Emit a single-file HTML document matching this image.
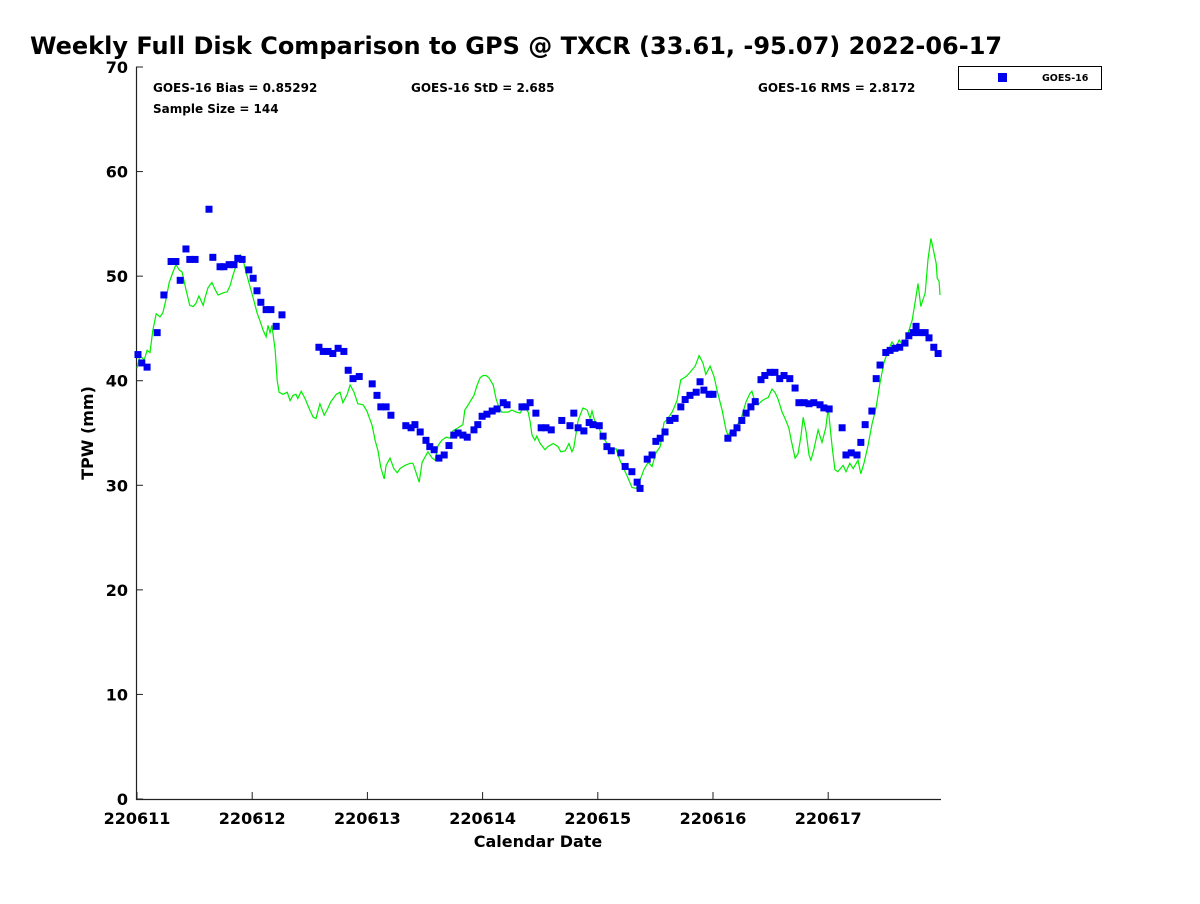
<!DOCTYPE html>
<html><head><meta charset="utf-8"><style>
body{margin:0;background:#fff;font-family:"DejaVu Sans",sans-serif}
svg text{font-family:"DejaVu Sans",sans-serif;font-weight:bold}
</style></head><body>
<svg id="chart" width="1200" height="900" xmlns="http://www.w3.org/2000/svg">
<rect width="1200" height="900" fill="#fff"/>
<text x="30" y="54" font-size="24">Weekly Full Disk Comparison to GPS @ TXCR (33.61, -95.07) 2022-06-17</text>
<text x="153" y="92" font-size="12">GOES-16 Bias = 0.85292</text>
<text x="411" y="92" font-size="12">GOES-16 StD = 2.685</text>
<text x="758" y="92" font-size="12">GOES-16 RMS = 2.8172</text>
<text x="153" y="113" font-size="12">Sample Size = 144</text>
<g>
<rect x="958.5" y="66.5" width="143" height="23" fill="#fff" stroke="#000" stroke-width="1"/>
<rect x="998" y="73" width="9" height="9" fill="#0000ee"/>
<text x="1042" y="81" font-size="9.5">GOES-16</text>
</g>
<text transform="translate(93,433) rotate(-90)" text-anchor="middle" font-size="16">TPW (mm)</text>
<text x="538" y="847" text-anchor="middle" font-size="16">Calendar Date</text>
<g id="axes"></g>
<g id="marks"></g>
</svg>
<script>
const yTicks=[0,10,20,30,40,50,60,70];
const xTickHours=[0,24,48,72,96,120,144];
const xTickLabels=["220611","220612","220613","220614","220615","220616","220617"];
const gpsHours=[0,0.6,1.5,2.1,2.7,3.3,4.0,4.8,5.4,6.0,6.7,7.5,8.1,8.8,9.4,10.2,11.0,11.7,12.3,12.9,13.8,14.2,14.8,15.6,16.3,16.9,17.9,18.8,19.4,20.0,20.8,21.5,22.1,22.5,23.3,24.2,25.0,25.8,26.3,26.9,27.3,27.7,28.1,28.8,29.2,29.6,30.4,31.3,31.9,32.5,33.1,33.5,34.2,35.0,36.0,36.7,37.3,38.1,39.0,39.6,40.4,41.5,42.3,42.9,43.8,44.4,45.2,46.0,47.1,47.9,49.0,49.6,50.2,50.8,51.5,51.9,52.7,53.5,54.2,54.8,55.8,56.9,57.5,58.8,59.4,60.6,61.5,62.1,62.7,63.5,64.4,65.2,65.8,66.9,67.9,68.3,69.0,69.8,70.2,70.8,71.5,72.1,72.7,73.3,74.2,74.8,75.2,76.0,77.3,78.1,79.0,79.8,80.6,81.5,81.9,82.3,82.9,83.3,84.0,85.0,85.6,86.7,87.7,88.3,89.2,90.0,90.6,91.0,91.9,92.9,93.8,94.4,94.8,95.4,96.0,96.9,97.5,98.3,99.2,99.8,100.6,101.3,102.1,103.1,104.0,104.8,105.6,106.5,107.3,108.1,109.0,109.8,110.6,111.5,112.5,113.3,114.4,115.2,116.3,117.1,117.9,118.5,119.4,120.2,121.0,121.9,122.7,123.1,123.8,124.4,125.2,126.0,126.9,127.7,128.1,128.8,129.4,130.0,130.6,131.5,132.3,132.9,133.5,134.4,135.0,135.8,136.3,137.1,137.7,138.3,138.8,139.4,140.0,140.4,141.0,141.9,142.3,142.7,143.5,144.0,144.8,145.4,146.0,147.1,147.7,148.5,149.2,150.2,150.8,151.5,152.3,153.1,154.0,154.8,155.6,156.5,157.3,158.1,158.8,159.6,160.4,161.5,162.1,162.7,163.3,164.2,164.8,165.4,165.8,166.5,166.7,167.1,167.3];
const gpsValues=[41.2,42.4,42.0,42.9,42.7,44.8,46.4,46.1,46.5,47.7,49.4,50.4,51.1,50.6,50.4,48.7,47.2,47.1,47.4,48.1,47.2,48.0,48.9,49.4,48.7,48.2,48.4,48.5,49.1,50.1,51.2,52.0,51.5,50.8,49.4,47.9,46.5,45.5,44.8,44.2,45.3,44.6,45.3,42.9,40.0,38.9,38.7,38.9,38.1,38.6,38.7,38.3,39.0,38.3,37.2,36.5,36.4,37.8,36.7,37.2,38.0,38.7,38.9,37.9,38.7,39.6,38.9,37.8,37.7,37.1,35.7,34.3,33.3,31.7,30.6,31.9,32.6,31.6,31.2,31.6,31.9,32.1,32.1,30.3,32.2,33.2,32.6,32.4,33.8,34.3,34.6,34.5,35.2,35.5,35.8,37.2,37.7,38.3,38.6,39.5,40.3,40.5,40.5,40.3,39.6,38.3,37.7,37.0,37.0,37.2,37.0,36.9,37.5,37.0,36.1,34.8,34.3,34.7,34.0,33.4,33.7,34.0,33.7,33.2,33.3,34.0,33.2,33.6,36.2,37.4,37.2,36.4,37.1,36.1,35.9,34.6,34.3,33.7,33.4,33.5,32.4,31.7,30.9,29.8,29.7,30.5,31.5,32.2,31.8,33.1,33.7,36.0,36.4,37.0,38.1,40.1,40.4,40.8,41.4,42.4,41.7,40.6,41.4,40.4,38.8,37.2,35.3,34.8,35.2,35.3,35.9,36.6,38.0,38.8,39.0,37.9,37.7,38.0,38.2,38.4,39.2,38.9,38.3,37.0,36.4,35.5,34.3,32.6,33.0,34.6,36.5,35.1,32.9,32.4,33.4,35.3,34.7,34.1,35.5,37.4,33.8,31.5,31.3,31.9,31.3,32.1,31.6,32.4,31.1,32.2,33.8,35.8,37.5,39.8,41.7,42.9,43.7,43.2,43.9,43.4,44.2,45.8,47.5,49.3,47.1,48.4,51.6,53.6,52.8,51.2,49.8,49.5,48.2];
const goesHours=[0.2,1.0,2.1,4.2,5.6,7.1,8.1,9.0,10.2,11.0,12.1,15.0,15.8,17.3,18.1,19.2,20.2,21.0,21.9,23.3,24.2,25.0,25.8,26.9,27.9,29.0,30.2,37.9,38.8,39.8,40.8,41.9,43.1,44.0,45.0,46.3,49.0,50.0,50.8,51.9,52.9,56.0,57.1,57.9,59.0,60.2,61.0,61.9,62.9,64.0,65.0,66.0,66.9,67.9,68.8,70.2,71.0,71.9,72.9,74.0,75.0,76.3,77.1,80.2,81.0,81.9,83.1,84.2,85.2,86.3,88.5,90.2,91.0,91.9,93.1,94.2,95.0,96.3,97.1,97.9,98.8,100.8,101.7,103.1,104.2,104.8,106.3,107.3,108.1,109.0,110.0,111.0,112.1,113.3,114.2,115.2,116.5,117.3,118.1,119.2,120.0,123.1,124.2,125.0,126.0,126.9,127.9,128.8,130.0,130.8,131.9,132.9,133.9,134.8,136.0,137.1,137.9,139.0,140.0,141.0,142.3,143.1,144.2,146.9,147.7,148.8,150.0,150.8,151.7,153.1,154.0,154.8,156.0,156.9,157.9,158.9,160.0,160.8,161.7,162.3,163.1,164.2,165.0,166.0,166.9];
const goesValues=[42.5,41.7,41.3,44.6,48.2,51.4,51.4,49.6,52.6,51.6,51.6,56.4,51.8,50.9,50.9,51.1,51.1,51.7,51.6,50.6,49.8,48.6,47.5,46.8,46.8,45.2,46.3,43.2,42.8,42.8,42.6,43.1,42.8,41.0,40.2,40.4,39.7,38.6,37.5,37.5,36.7,35.7,35.5,35.8,35.1,34.3,33.7,33.4,32.6,32.9,33.8,34.8,35.0,34.8,34.6,35.3,35.8,36.6,36.8,37.1,37.3,37.9,37.7,37.5,37.5,37.9,36.9,35.5,35.5,35.3,36.2,35.7,36.9,35.5,35.2,36.0,35.8,35.7,34.7,33.7,33.3,33.1,31.8,31.3,30.3,29.7,32.5,32.9,34.2,34.5,35.1,36.2,36.4,37.5,38.2,38.6,38.9,39.9,39.1,38.7,38.7,34.5,35.0,35.5,36.2,36.9,37.5,38.0,40.1,40.5,40.8,40.8,40.2,40.5,40.2,39.3,37.9,37.9,37.8,37.9,37.7,37.4,37.3,35.5,32.9,33.1,32.9,34.1,35.8,37.1,40.2,41.5,42.7,42.9,43.1,43.2,43.6,44.3,44.6,45.2,44.6,44.6,44.1,43.2,42.6];

const NS='http://www.w3.org/2000/svg';
const X0=137,PXH=4.8,Y0=799,PYV=10.457;
function xs(h){return X0+h*PXH;}
function ys(v){return Y0-v*PYV;}
function mk(tag,attrs,parent){const e=document.createElementNS(NS,tag);for(const k in attrs)e.setAttribute(k,attrs[k]);parent.appendChild(e);return e;}
const axes=document.getElementById('axes'),marks=document.getElementById('marks');
const ya=mk('line',{x1:136.5,y1:67,x2:136.5,y2:800,stroke:'#222','stroke-width':1.2},axes);


const xa=mk('line',{x1:136,y1:799.5,x2:941,y2:799.5,stroke:'#222','stroke-width':1.2},axes);


yTicks.forEach(v=>{
  const t=mk('line',{x1:136,y1:ys(v),x2:143,y2:ys(v),stroke:'#222','stroke-width':1},axes);
  
  
  const l=mk('text',{x:128,y:ys(v)+6,'text-anchor':'end','font-size':16},axes);
  l.textContent=v;
  
  
});
xTickHours.forEach((h,i)=>{
  const t=mk('line',{x1:xs(h),y1:799,x2:xs(h),y2:792,stroke:'#222','stroke-width':1},axes);
  
  
  const l=mk('text',{x:xs(h),y:824,'text-anchor':'middle','font-size':16},axes);
  l.textContent=xTickLabels[i];
  
  
});
const pts=gpsHours.map((h,i)=>xs(h).toFixed(1)+','+ys(gpsValues[i]).toFixed(1)).join(' ');
const gl=mk('polyline',{points:pts,fill:'none',stroke:'#00ee00','stroke-width':1.2},marks);


goesHours.forEach((h,i)=>{
  if(goesValues[i]===undefined)return;
  const r=mk('rect',{x:xs(h)-3.5,y:ys(goesValues[i])-3.5,width:7,height:7,fill:'#0000ee'},marks);
  
  
});
</script>
</body></html>
